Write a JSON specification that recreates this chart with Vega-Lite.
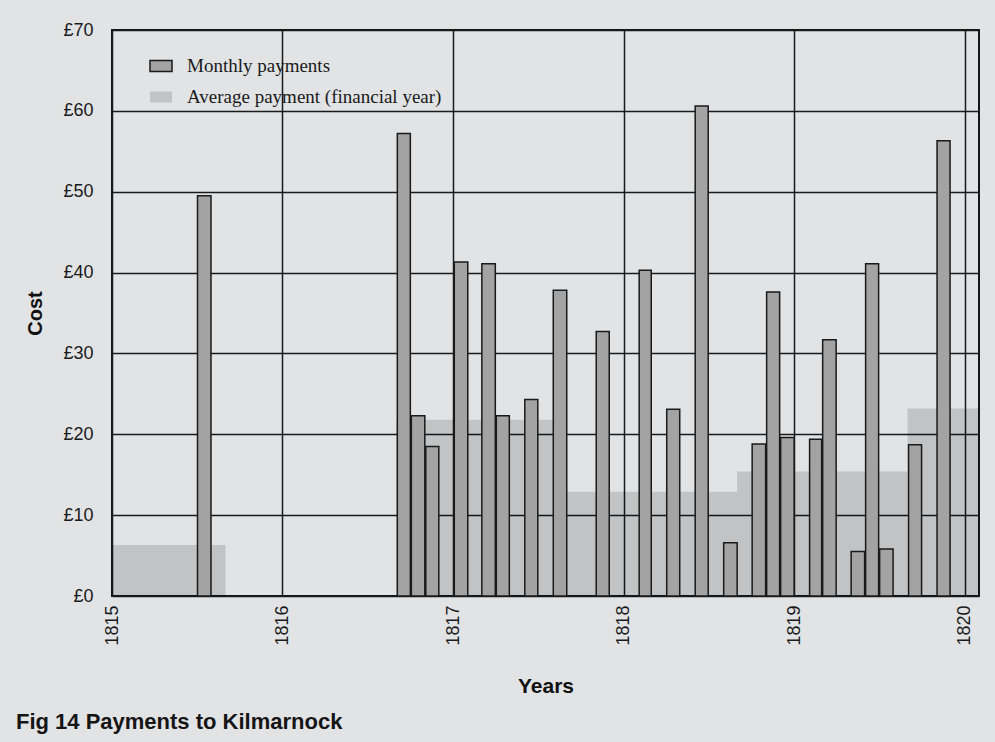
{
  "$schema": "https://vega.github.io/schema/vega-lite/v6.json",
  "width": 867,
  "height": 566,
  "autosize": {"type": "none"},
  "padding": {"left": 112, "top": 30, "right": 16, "bottom": 146},
  "background": "#e1e3e5",
  "config": {
    "view": {"stroke": "#151515", "strokeWidth": 2},
    "font": "Liberation Sans",
    "axis": {
      "domain": false,
      "ticks": false,
      "gridColor": "#1a1a1a",
      "gridWidth": 1.5,
      "gridOpacity": 1,
      "labelColor": "#1a1a1a",
      "titleColor": "#111111",
      "labelFont": "Liberation Sans",
      "titleFont": "'Liberation Sans Narrow', 'Liberation Sans', sans-serif"
    }
  },
  "title": {
    "text": "Fig 14 Payments to Kilmarnock",
    "orient": "bottom",
    "anchor": "start",
    "frame": "bounds",
    "offset": 16,
    "dx": -10,
    "font": "Liberation Sans",
    "fontSize": 22,
    "fontWeight": "bold",
    "color": "#151515"
  },
  "datasets": {
    "monthly": [
      {"series": "Monthly payments", "month": "1815-07-01", "cost": 49.5},
      {"series": "Monthly payments", "month": "1816-09-01", "cost": 57.2},
      {"series": "Monthly payments", "month": "1816-10-01", "cost": 22.3},
      {"series": "Monthly payments", "month": "1816-11-01", "cost": 18.5},
      {"series": "Monthly payments", "month": "1817-01-01", "cost": 41.3},
      {"series": "Monthly payments", "month": "1817-03-01", "cost": 41.1},
      {"series": "Monthly payments", "month": "1817-04-01", "cost": 22.3},
      {"series": "Monthly payments", "month": "1817-06-01", "cost": 24.3},
      {"series": "Monthly payments", "month": "1817-08-01", "cost": 37.8},
      {"series": "Monthly payments", "month": "1817-11-01", "cost": 32.7},
      {"series": "Monthly payments", "month": "1818-02-01", "cost": 40.3},
      {"series": "Monthly payments", "month": "1818-04-01", "cost": 23.1},
      {"series": "Monthly payments", "month": "1818-06-01", "cost": 60.6},
      {"series": "Monthly payments", "month": "1818-08-01", "cost": 6.6},
      {"series": "Monthly payments", "month": "1818-10-01", "cost": 18.8},
      {"series": "Monthly payments", "month": "1818-11-01", "cost": 37.6},
      {"series": "Monthly payments", "month": "1818-12-01", "cost": 19.6},
      {"series": "Monthly payments", "month": "1819-02-01", "cost": 19.4},
      {"series": "Monthly payments", "month": "1819-03-01", "cost": 31.7},
      {"series": "Monthly payments", "month": "1819-05-01", "cost": 5.5},
      {"series": "Monthly payments", "month": "1819-06-01", "cost": 41.1},
      {"series": "Monthly payments", "month": "1819-07-01", "cost": 5.8},
      {"series": "Monthly payments", "month": "1819-09-01", "cost": 18.7},
      {"series": "Monthly payments", "month": "1819-11-01", "cost": 56.3}
    ],
    "average": [
      {"series": "Average payment (financial year)", "start": "1815-01-01", "end": "1815-09-01", "cost": 6.3},
      {"series": "Average payment (financial year)", "start": "1816-09-01", "end": "1817-09-01", "cost": 21.8},
      {"series": "Average payment (financial year)", "start": "1817-09-01", "end": "1818-09-01", "cost": 12.9},
      {"series": "Average payment (financial year)", "start": "1818-09-01", "end": "1819-09-01", "cost": 15.4},
      {"series": "Average payment (financial year)", "start": "1819-09-01", "end": "1820-02-01", "cost": 23.2}
    ]
  },
  "layer": [
    {
      "data": {"name": "average"},
      "mark": {"type": "rect", "strokeWidth": 0},
      "encoding": {
        "x": {
          "field": "start",
          "type": "temporal",
          "scale": {"type": "utc", "domain": [{"year": 1815, "month": 1, "date": 1, "utc": true}, {"year": 1820, "month": 2, "date": 1, "utc": true}]},
          "axis": {
            "title": "Years",
            "titleFontSize": 21,
            "titleFontWeight": "bold",
            "titlePadding": 30,
            "labelAngle": -90,
            "labelFontSize": 18,
            "labelPadding": 9,
            "labelExpr": "utcFormat(datum.value, '%Y')",
            "values": [
              {"year": 1815, "utc": true},
              {"year": 1816, "utc": true},
              {"year": 1817, "utc": true},
              {"year": 1818, "utc": true},
              {"year": 1819, "utc": true},
              {"year": 1820, "utc": true}
            ]
          }
        },
        "x2": {"field": "end"},
        "y": {
          "field": "cost",
          "type": "quantitative",
          "scale": {"domain": [0, 70], "nice": false, "padding": 0},
          "axis": {
            "title": "Cost",
            "titleFontSize": 20,
            "titleFontWeight": "bold",
            "titlePadding": 17,
            "labelFontSize": 18,
            "labelPadding": 19,
            "values": [0, 10, 20, 30, 40, 50, 60, 70],
            "labelExpr": "'£' + datum.value"
          }
        },
        "y2": {"datum": 0},
        "fill": {
          "field": "series",
          "type": "nominal",
          "scale": {"domain": ["Monthly payments", "Average payment (financial year)"], "range": ["#a3a3a3", "rgba(0,0,0,0.14)"]},
          "legend": {
            "title": null,
            "orient": "none",
            "legendX": 38,
            "legendY": 25,
            "padding": 0,
            "symbolType": "M-1.1,-0.55H1.1V0.55H-1.1Z",
            "symbolSize": 400,
            "symbolStrokeWidth": 1.5,
            "symbolOpacity": 1,
            "labelFont": "Liberation Serif",
            "labelFontSize": 19,
            "labelColor": "#1a1a1a",
            "labelOffset": 15,
            "labelLimit": 500,
            "rowPadding": 10
          }
        },
        "stroke": {
          "field": "series",
          "type": "nominal",
          "scale": {"domain": ["Monthly payments", "Average payment (financial year)"], "range": ["#1a1a1a", "transparent"]},
          "legend": null
        }
      }
    },
    {
      "data": {"name": "monthly"},
      "mark": {"type": "bar", "strokeWidth": 1.5},
      "encoding": {
        "x": {"field": "month", "type": "temporal", "timeUnit": "utcyearmonth"},
        "y": {"field": "cost", "type": "quantitative"},
        "fill": {"field": "series", "type": "nominal"},
        "stroke": {"field": "series", "type": "nominal"}
      }
    }
  ]
}
